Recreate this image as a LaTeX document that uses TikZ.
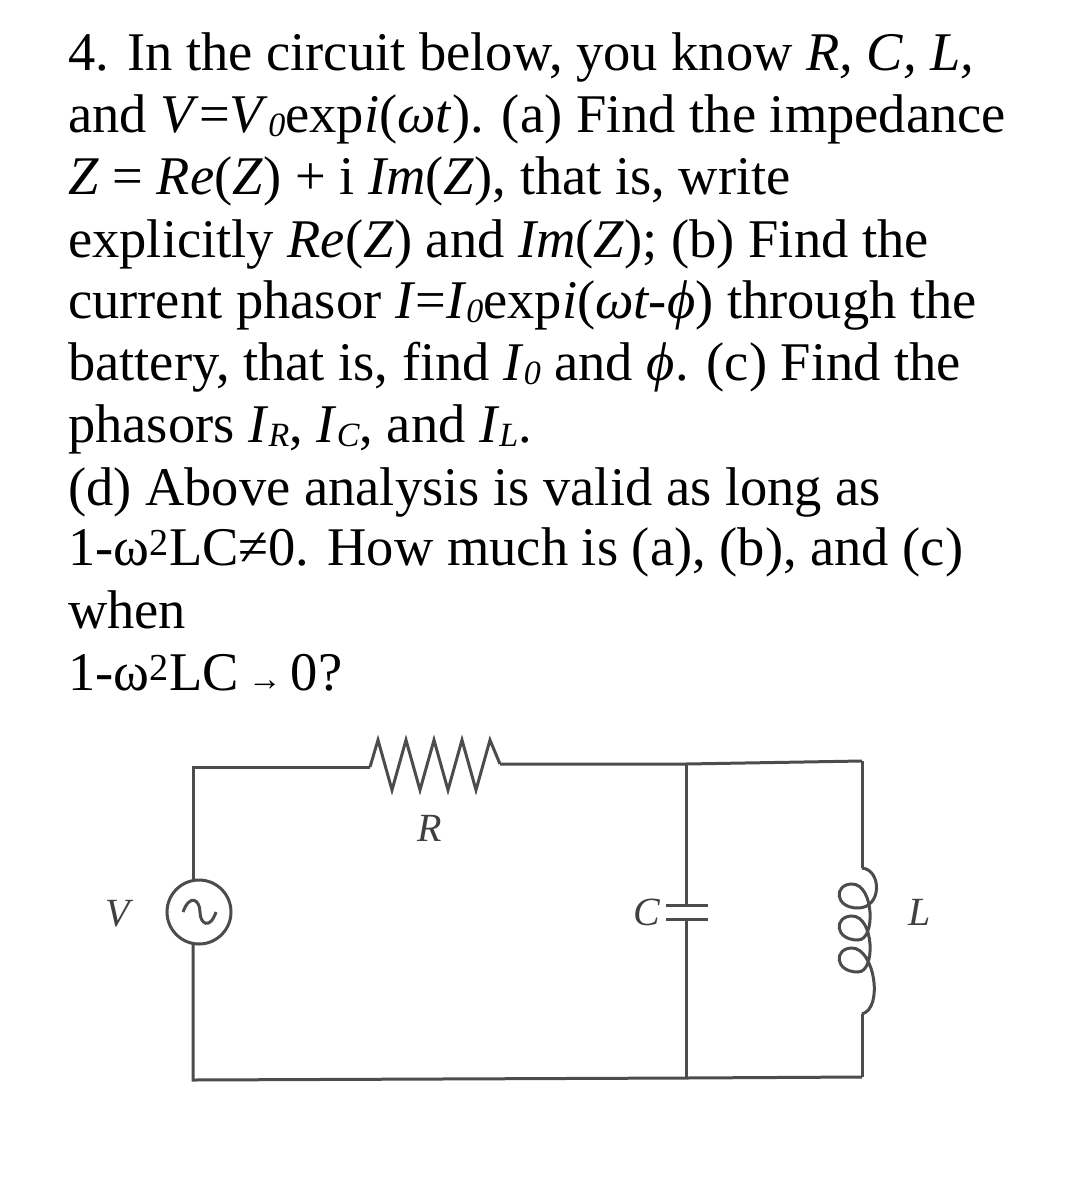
\documentclass[tikz,border=0pt]{standalone}
\usepackage{fontspec}
\setmainfont{Liberation Serif}
\newcommand{\sbi}[1]{\raisebox{-0.08em}{\fontsize{34}{34}\selectfont\itshape #1}}
\begin{document}
\begin{tikzpicture}[x=1pt,y=-1pt,
  txt/.style={anchor=base west,inner sep=0,font=\fontsize{54.5}{60}\selectfont},
  wire/.style={line width=3pt,color=black!70},
  lbl/.style={font=\fontsize{40}{40}\selectfont\itshape,color=black!75}]
\useasboundingbox (0,0) rectangle (1080,1195);
\node[txt] (l1) at (68,70) {4. In the circuit below, you know \textit{R, C, L,}};
\node[txt] (l2) at (68,132) {and \textit{V}=\textit{V}\sbi{0}exp\textit{i}(\textit{ωt}). (a) Find the impedance};
\node[txt] (l3) at (68,194) {\textit{Z} = \textit{Re}(\textit{Z}) + i \textit{Im}(\textit{Z}), that is, write};
\node[txt] (l4) at (68,257) {explicitly \textit{Re}(\textit{Z}) and \textit{Im}(\textit{Z}); (b) Find the};
\node[txt] (l5) at (68,318) {current phasor \textit{I}=\textit{I}\sbi{0}exp\textit{i}(\textit{ωt-ϕ}) through the};
\node[txt] (l6) at (68,380) {battery, that is, find \textit{I}\sbi{0} and \textit{ϕ}. (c) Find the};
\node[txt] (l7) at (68,442) {phasors \textit{I}\sbi{R}, \textit{I}\sbi{C}, and \textit{I}\sbi{L}.};
\node[txt] (l8) at (68,505) {(d) Above analysis is valid as long as};
\node[txt] (l9) at (68,565) {1-ω\textsuperscript{2}LC≠0. How much is (a), (b), and (c)};
\node[txt] (l10) at (68,628) {when};
\node[txt] (l11) at (68,690) {1-ω\textsuperscript{2}LC\,{\fontsize{34}{34}\selectfont →}\,0?};
% circuit
\coordinate (tl) at (193,767);
\coordinate (r1) at (370,767);
\coordinate (r2) at (500,764);
\coordinate (tc) at (686,764);
\coordinate (tr) at (862,761);
\coordinate (bl) at (193,1080);
\coordinate (bc) at (686,1078);
\coordinate (br) at (862,1077);
\node[draw,circle,line width=3pt,color=black!70,minimum size=64pt,inner sep=0] (src) at (199,912) {};
\draw[wire] (193,880) -- (tl) -- (r1);
\draw[wire] (r1) -- (378,740) -- (392,790) -- (406,740) -- (420,790) -- (434,740) -- (448,790) -- (462,740) -- (476,790) -- (490,740) -- (r2);
\draw[wire] (r2) -- (tc) -- (tr);
\draw[wire] (193,944) -- (bl) -- (bc) -- (br);
\draw[wire] (183,912) .. controls (190,893) and (200,900) .. (200,912) .. controls (200,924) and (210,930) .. (216,912);
% capacitor
\coordinate (cp1) at (686,905);
\coordinate (cp2) at (686,919);
\draw[wire] (tc) -- (cp1);
\draw[wire] (cp2) -- (bc);
\draw[wire] (666,905) -- (708,905);
\draw[wire] (666,919) -- (708,919);
% inductor
\coordinate (li1) at (862,868);
\coordinate (li2) at (862,1014);
\draw[wire] (tr) -- (li1);
\draw[wire] (li2) -- (br);
\draw[wire] (li1) .. controls (882,870) and (882,908) .. (858,908)
  .. controls (834,908) and (834,884) .. (852,884) .. controls (874,884) and (876,940) .. (858,940)
  .. controls (834,940) and (834,916) .. (852,916) .. controls (874,916) and (876,972) .. (858,972)
  .. controls (834,972) and (834,948) .. (852,948) .. controls (874,948) and (884,1008) .. (li2);
\node[lbl] (lr) at (430,828) {R};
\node[lbl,anchor=east] (lc) at (664,912) {C};
\node[lbl] (ll) at (920,912) {L};
\node[lbl] (lv) at (118,914) {V};
\end{tikzpicture}
\end{document}
